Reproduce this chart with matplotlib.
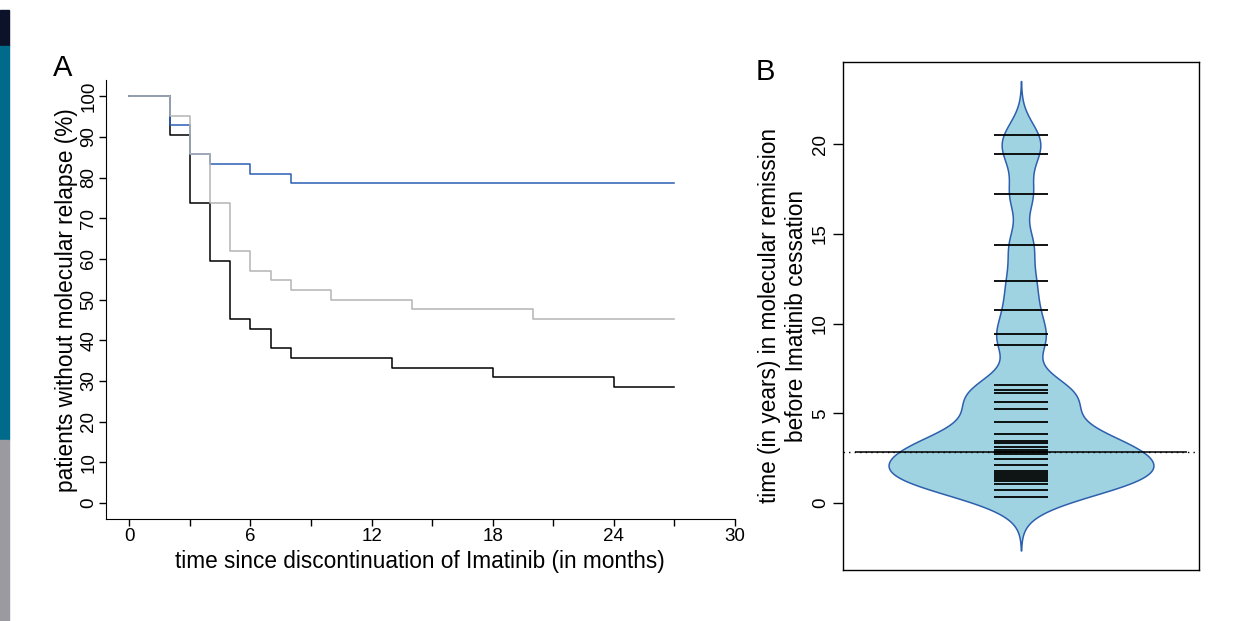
import matplotlib.pyplot as plt
import numpy as np
from matplotlib.patches import Rectangle

plt.rcParams['font.family'] = ['Liberation Sans', 'DejaVu Sans']

# panel A: Kaplan-Meier curves (step times in months, % without relapse)
km_times = [0, 2, 3, 4, 5, 6, 7, 8, 10, 13, 14, 18, 20, 24, 27]
blue_surv = [100, 92.9, 85.7, 83.3, 83.3, 81.0, 81.0, 78.6, 78.6, 78.6, 78.6, 78.6, 78.6, 78.6, 78.6]
gray_surv = [100, 95.2, 85.7, 73.8, 61.9, 57.1, 54.8, 52.4, 50.0, 50.0, 47.6, 47.6, 45.2, 45.2, 45.2]
black_surv = [100, 90.5, 73.8, 59.5, 45.2, 42.9, 38.1, 35.7, 35.7, 33.3, 33.3, 31.0, 31.0, 28.6, 28.6]

# panel B: years in molecular remission before cessation
remission_years = [20.52, 19.48, 17.21, 14.39, 12.38, 10.77, 9.41, 8.80,
                   6.57, 6.31, 6.13, 5.64, 5.24, 4.55, 3.86, 3.49, 3.35, 3.15,
                   2.97, 2.86, 2.75, 2.48, 2.12, 1.82, 1.70, 1.59, 1.48, 1.37,
                   1.26, 1.06, 0.74, 0.37]
bean_line = 2.88

fig = plt.figure(figsize=(12.42, 6.21), dpi=100)

# strip of slide background on the far left
fig.patches.append(Rectangle((0, 1 - 45.5 / 621), 9 / 1242, 35.5 / 621, transform=fig.transFigure,
                             color='#0b1229', zorder=0))
fig.patches.append(Rectangle((0, 1 - 440 / 621), 9 / 1242, 394.5 / 621, transform=fig.transFigure,
                             color='#006a8a', zorder=0))
fig.patches.append(Rectangle((0, 0), 9 / 1242, 181 / 621, transform=fig.transFigure,
                             color='#9a9aa0', zorder=0))

# ---- panel A ----
ax = fig.add_axes([105.7 / 1242, 1 - 519.3 / 621, 629.3 / 1242, 439.3 / 621])
ax.step(km_times, black_surv, where='post', color='black', lw=1.1)
ax.step(km_times, blue_surv, where='post', color='#2b5fb3', lw=1.1)
ax.step(km_times, gray_surv, where='post', color='#b4b4b4', lw=1.1)
ax.set_xlim(-1.17, 30)
ax.set_ylim(-4, 104)
ax.spines['top'].set_visible(False)
ax.spines['right'].set_visible(False)
ax.set_xticks(range(0, 31, 6))
ax.set_xticks(range(3, 30, 6), minor=True)
ax.set_yticks(range(0, 101, 10))
ax.tick_params(axis='both', which='both', direction='out', length=5, width=1, labelsize=13.5)
ax.tick_params(axis='x', pad=1)
ax.tick_params(axis='y', pad=1)
for lab in ax.get_yticklabels():
    lab.set_rotation(90)
    lab.set_va('center')
ax.set_xlabel('time since discontinuation of Imatinib (in months)', fontsize=16.3, labelpad=4)
ax.set_ylabel('patients without molecular relapse (%)', fontsize=16.3, labelpad=2)
fig.text(63 / 1242, 1 - 76 / 621, 'A', fontsize=21, ha='center', va='baseline')

# ---- panel B: bean plot ----
bx = fig.add_axes([843 / 1242, 1 - 570 / 621, 356 / 1242, 508.3 / 621])
vals = np.array(remission_years)
bw = 1.0
grid = np.linspace(vals.min() - 3 * bw, vals.max() + 3 * bw, 400)
dens = np.exp(-0.5 * ((grid[:, None] - vals[None, :]) / bw) ** 2).sum(axis=1)
half = dens / dens.max() * 0.372
bx.fill_betweenx(grid, 1 - half, 1 + half, facecolor='#9fd3e1', edgecolor='#2d5fae', lw=1.1)
bx.hlines(vals, 1 - 0.075, 1 + 0.075, color='black', lw=1.3)
bx.axhline(bean_line, color='black', lw=1, ls=(0, (1, 3)))
bx.hlines(bean_line, 0.535, 1.465, color='black', lw=1.1)
bx.set_xlim(0.5, 1.5)
bx.set_ylim(-3.72, 24.6)
bx.set_xticks([])
bx.set_yticks([0, 5, 10, 15, 20])
bx.tick_params(axis='y', direction='out', length=7, width=1, labelsize=13.5, pad=3)
for lab in bx.get_yticklabels():
    lab.set_rotation(90)
    lab.set_va('center')
for s in bx.spines.values():
    s.set_linewidth(1)
bx.set_ylabel('time (in years) in molecular remission\nbefore Imatinib cessation', fontsize=16.3,
              labelpad=3, linespacing=1.2)
fig.text(765 / 1242, 1 - 80 / 621, 'B', fontsize=21, ha='center', va='baseline')

fig.savefig('out.png', dpi=100)
